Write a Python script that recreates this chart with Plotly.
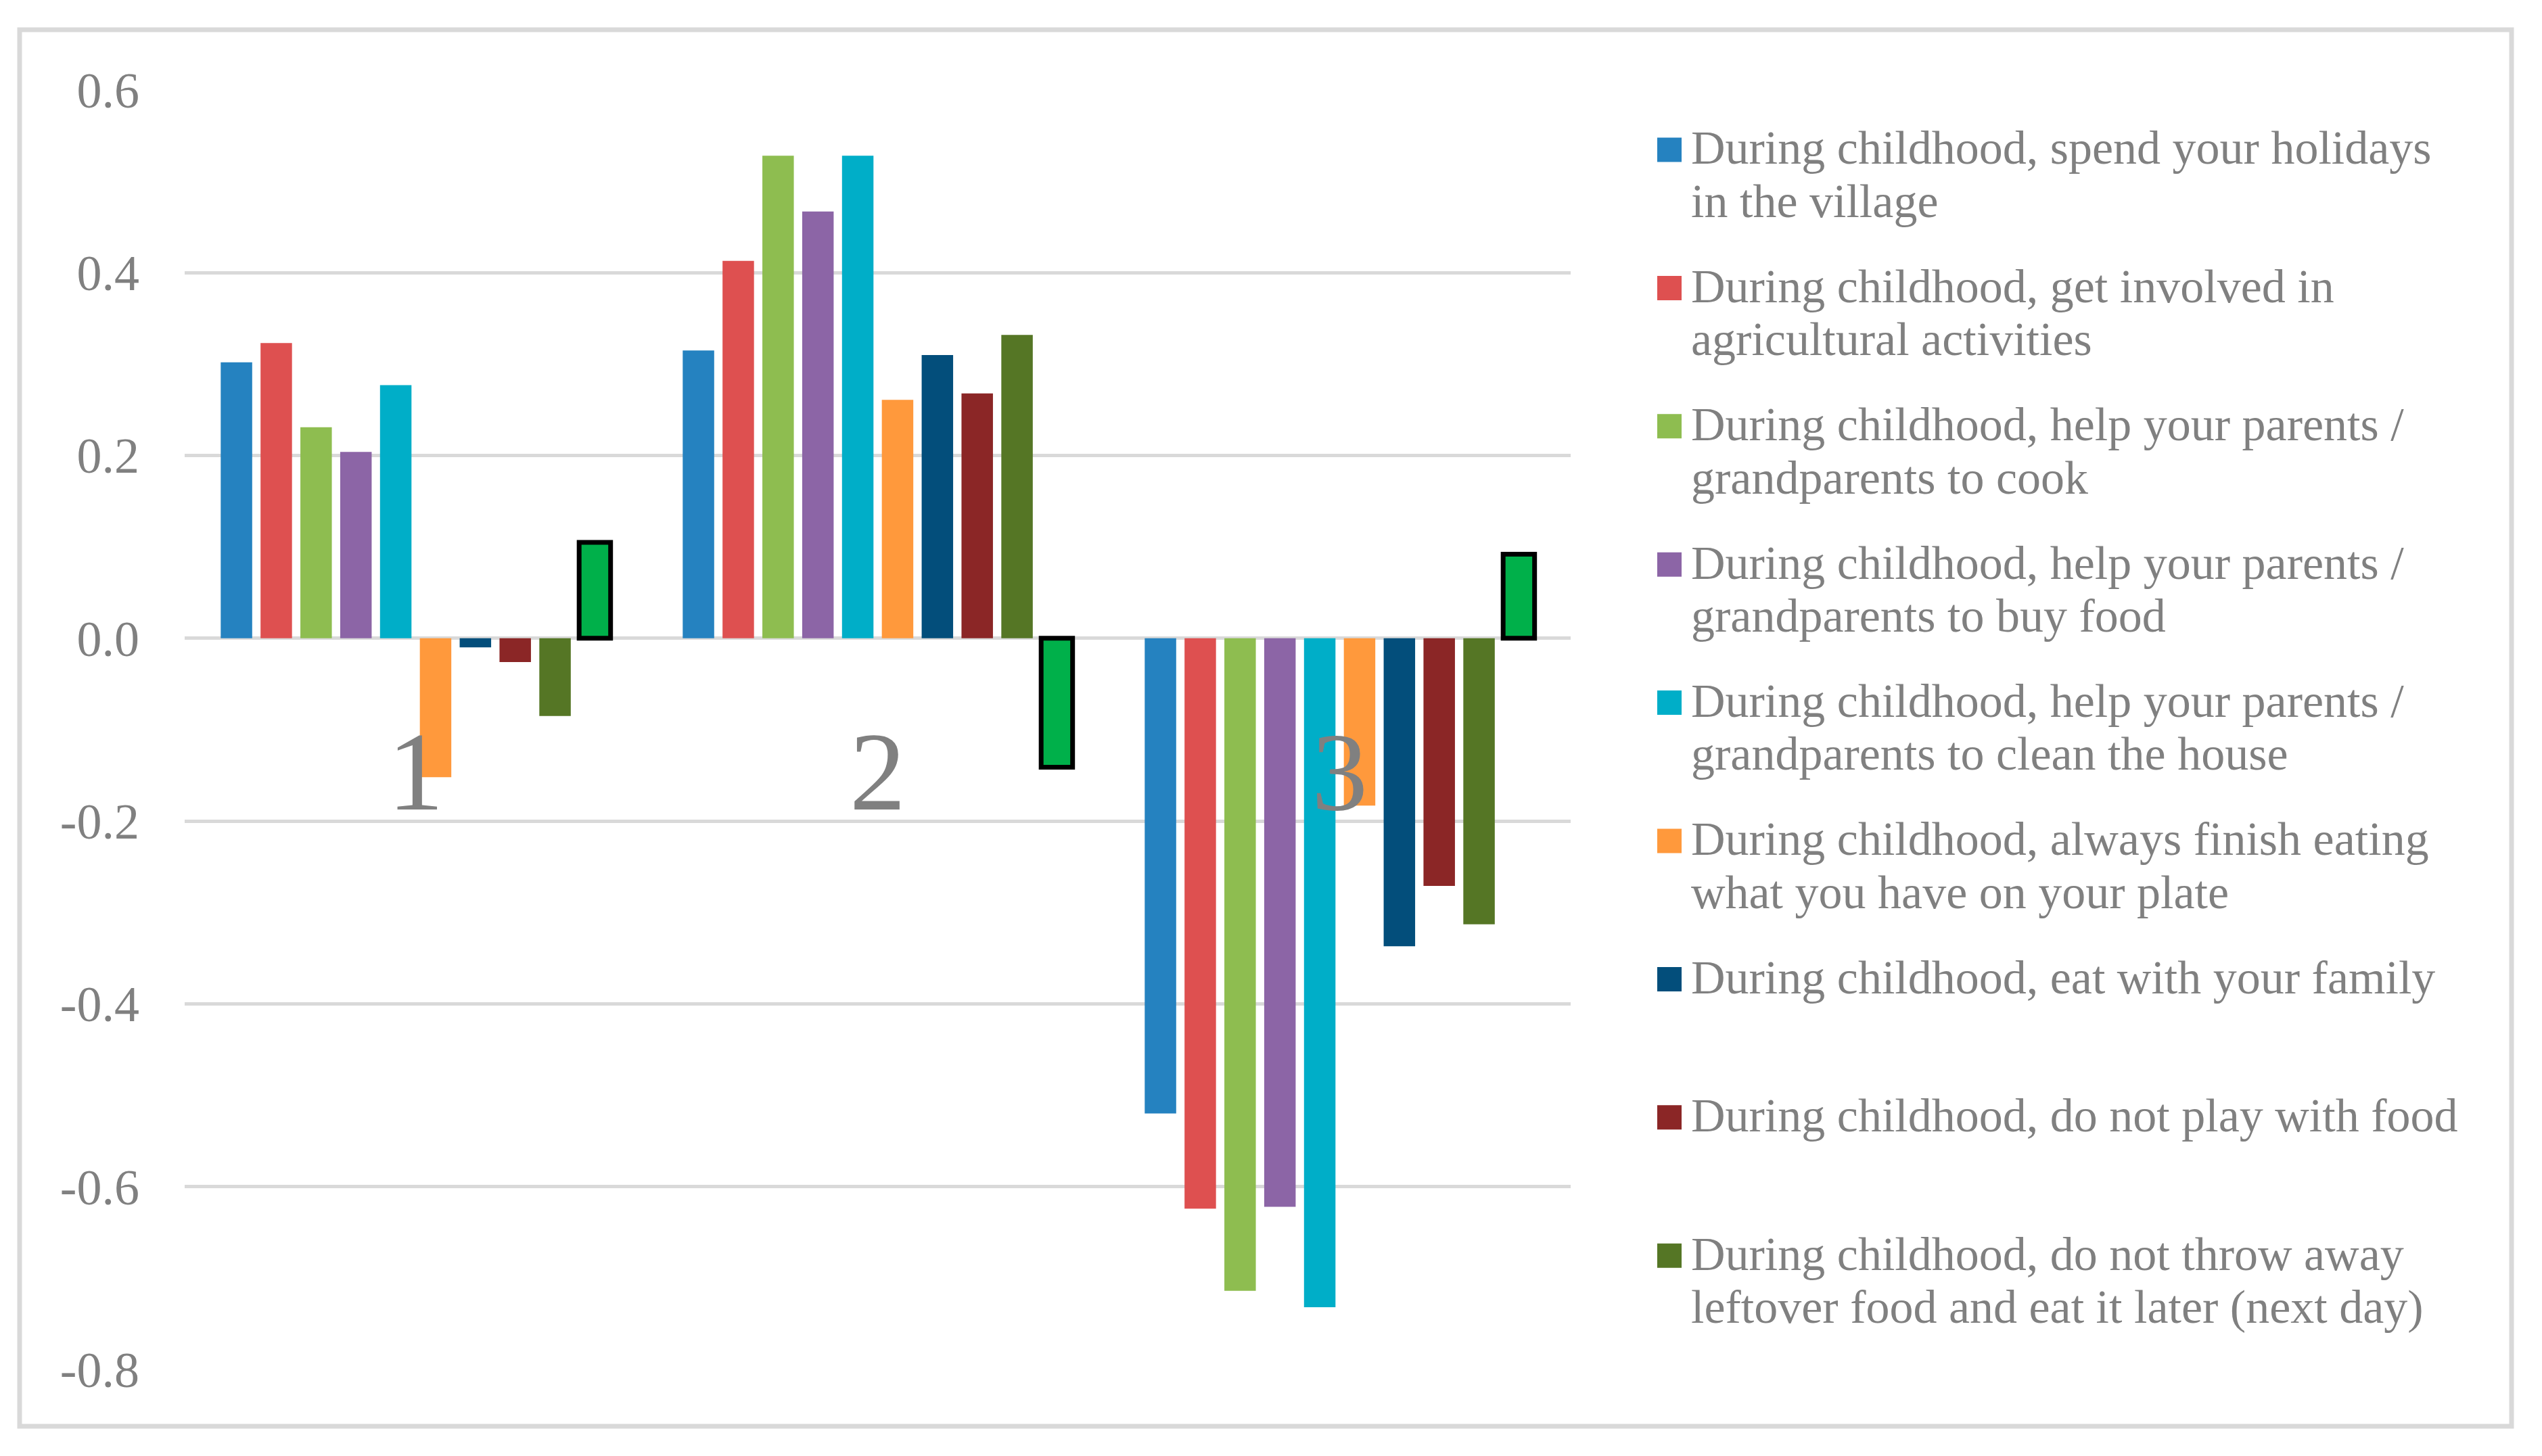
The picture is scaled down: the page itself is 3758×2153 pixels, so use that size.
import plotly.graph_objects as go

# ---------------- data ----------------
categories = ["1", "2", "3"]

legend_labels = [
    "During childhood, spend your holidays<br>in the village",
    "During childhood, get involved in<br>agricultural activities",
    "During childhood, help your parents /<br>grandparents to cook",
    "During childhood, help your parents /<br>grandparents to buy food",
    "During childhood, help your parents /<br>grandparents to clean the house",
    "During childhood, always finish eating<br>what you have on your plate",
    "During childhood, eat with your family",
    "During childhood, do not play with food",
    "During childhood, do not throw away<br>leftover food and eat it later (next day)",
]

holidays_village = [0.302, 0.315, -0.520]
agricultural = [0.323, 0.413, -0.624]
help_cook = [0.231, 0.528, -0.714]
help_buy_food = [0.204, 0.467, -0.622]
help_clean = [0.277, 0.528, -0.732]
finish_plate = [-0.152, 0.261, -0.183]
eat_family = [-0.010, 0.310, -0.337]
no_play_food = [-0.026, 0.268, -0.271]
no_throw_leftover = [-0.085, 0.332, -0.313]
series_10 = [0.105, -0.141, 0.092]

series_values = [holidays_village, agricultural, help_cook, help_buy_food, help_clean,
                 finish_plate, eat_family, no_play_food, no_throw_leftover]

colors = ["#2582C0", "#DE5050", "#8EBD50", "#8C65A6", "#00AEC8",
          "#FF993C", "#034E7B", "#8B2626", "#557625"]
series_10_color = "#00B04A"

y_tickvals = [-0.8, -0.6, -0.4, -0.2, 0.0, 0.2, 0.4, 0.6]
y_ticktext = ["-0.8", "-0.6", "-0.4", "-0.2", "0.0", "0.2", "0.4", "0.6"]

# ---------------- layout geometry (pixels) ----------------
W, H = 3758, 2153
L, R, T, B = 273, 2322, 133, 2025
FONT = "Liberation Serif"
GRAY = "#808080"
GRID = "#d9d9d9"
LEG_SIZE = 70


def px_x(p):
    return (p - L) / (R - L)


def px_y(p):
    return (B - p) / (B - T)


fig = go.Figure()
for name, vals, col in zip(legend_labels, series_values, colors):
    fig.add_trace(go.Bar(
        x=categories, y=vals, name=name.replace("<br>", " "),
        marker=dict(color=col, line=dict(width=0)), showlegend=False,
    ))
fig.add_trace(go.Bar(
    x=categories, y=series_10, name="Series 10",
    marker=dict(color=series_10_color, line=dict(color="black", width=7)),
    showlegend=False,
))

shapes = [dict(type="rect", xref="paper", yref="paper",
               x0=px_x(29), x1=px_x(3713), y0=px_y(2109), y1=px_y(44),
               line=dict(color=GRID, width=7), fillcolor="rgba(0,0,0,0)", layer="below")]
annotations = []
base0, step, line_gap = 242.5, 204.4, 78.5
for i, (lab, col) in enumerate(zip(legend_labels, colors)):
    b1 = base0 + i * step
    c = b1 - 21
    shapes.append(dict(type="rect", xref="paper", yref="paper",
                       x0=px_x(2450), x1=px_x(2486), y0=px_y(c + 18), y1=px_y(c - 18),
                       line=dict(width=0), fillcolor=col))
    for j, txt in enumerate(lab.split("<br>")):
        bl = b1 + j * line_gap
        annotations.append(dict(
            xref="paper", yref="paper", x=px_x(2498), y=px_y(bl - 0.3375 * LEG_SIZE),
            xanchor="left", yanchor="middle", showarrow=False, text=txt,
            font=dict(family=FONT, size=LEG_SIZE, color=GRAY),
        ))

fig.update_layout(
    width=W, height=H,
    margin=dict(l=L, r=W - R, t=T, b=H - B, pad=0),
    paper_bgcolor="white", plot_bgcolor="white",
    barmode="group", bargap=0.138, bargroupgap=0.21,
    showlegend=False,
    shapes=shapes, annotations=annotations,
    xaxis=dict(
        type="category", anchor="free", position=0.8 / 1.4,
        showgrid=False, showline=False, zeroline=False, ticks="",
        tickfont=dict(family=FONT, size=166, color=GRAY),
        ticklabelstandoff=86,
    ),
    yaxis=dict(
        range=[-0.8, 0.6], tickvals=y_tickvals, ticktext=y_ticktext,
        showgrid=True, gridcolor=GRID, gridwidth=5,
        zeroline=True, zerolinecolor=GRID, zerolinewidth=5,
        showline=False, ticks="",
        tickfont=dict(family=FONT, size=74, color=GRAY),
        ticklabelstandoff=66,
    ),
)

fig.write_html("out.html", config={"displayModeBar": False},
               post_script="document.body.style.margin='0';")
